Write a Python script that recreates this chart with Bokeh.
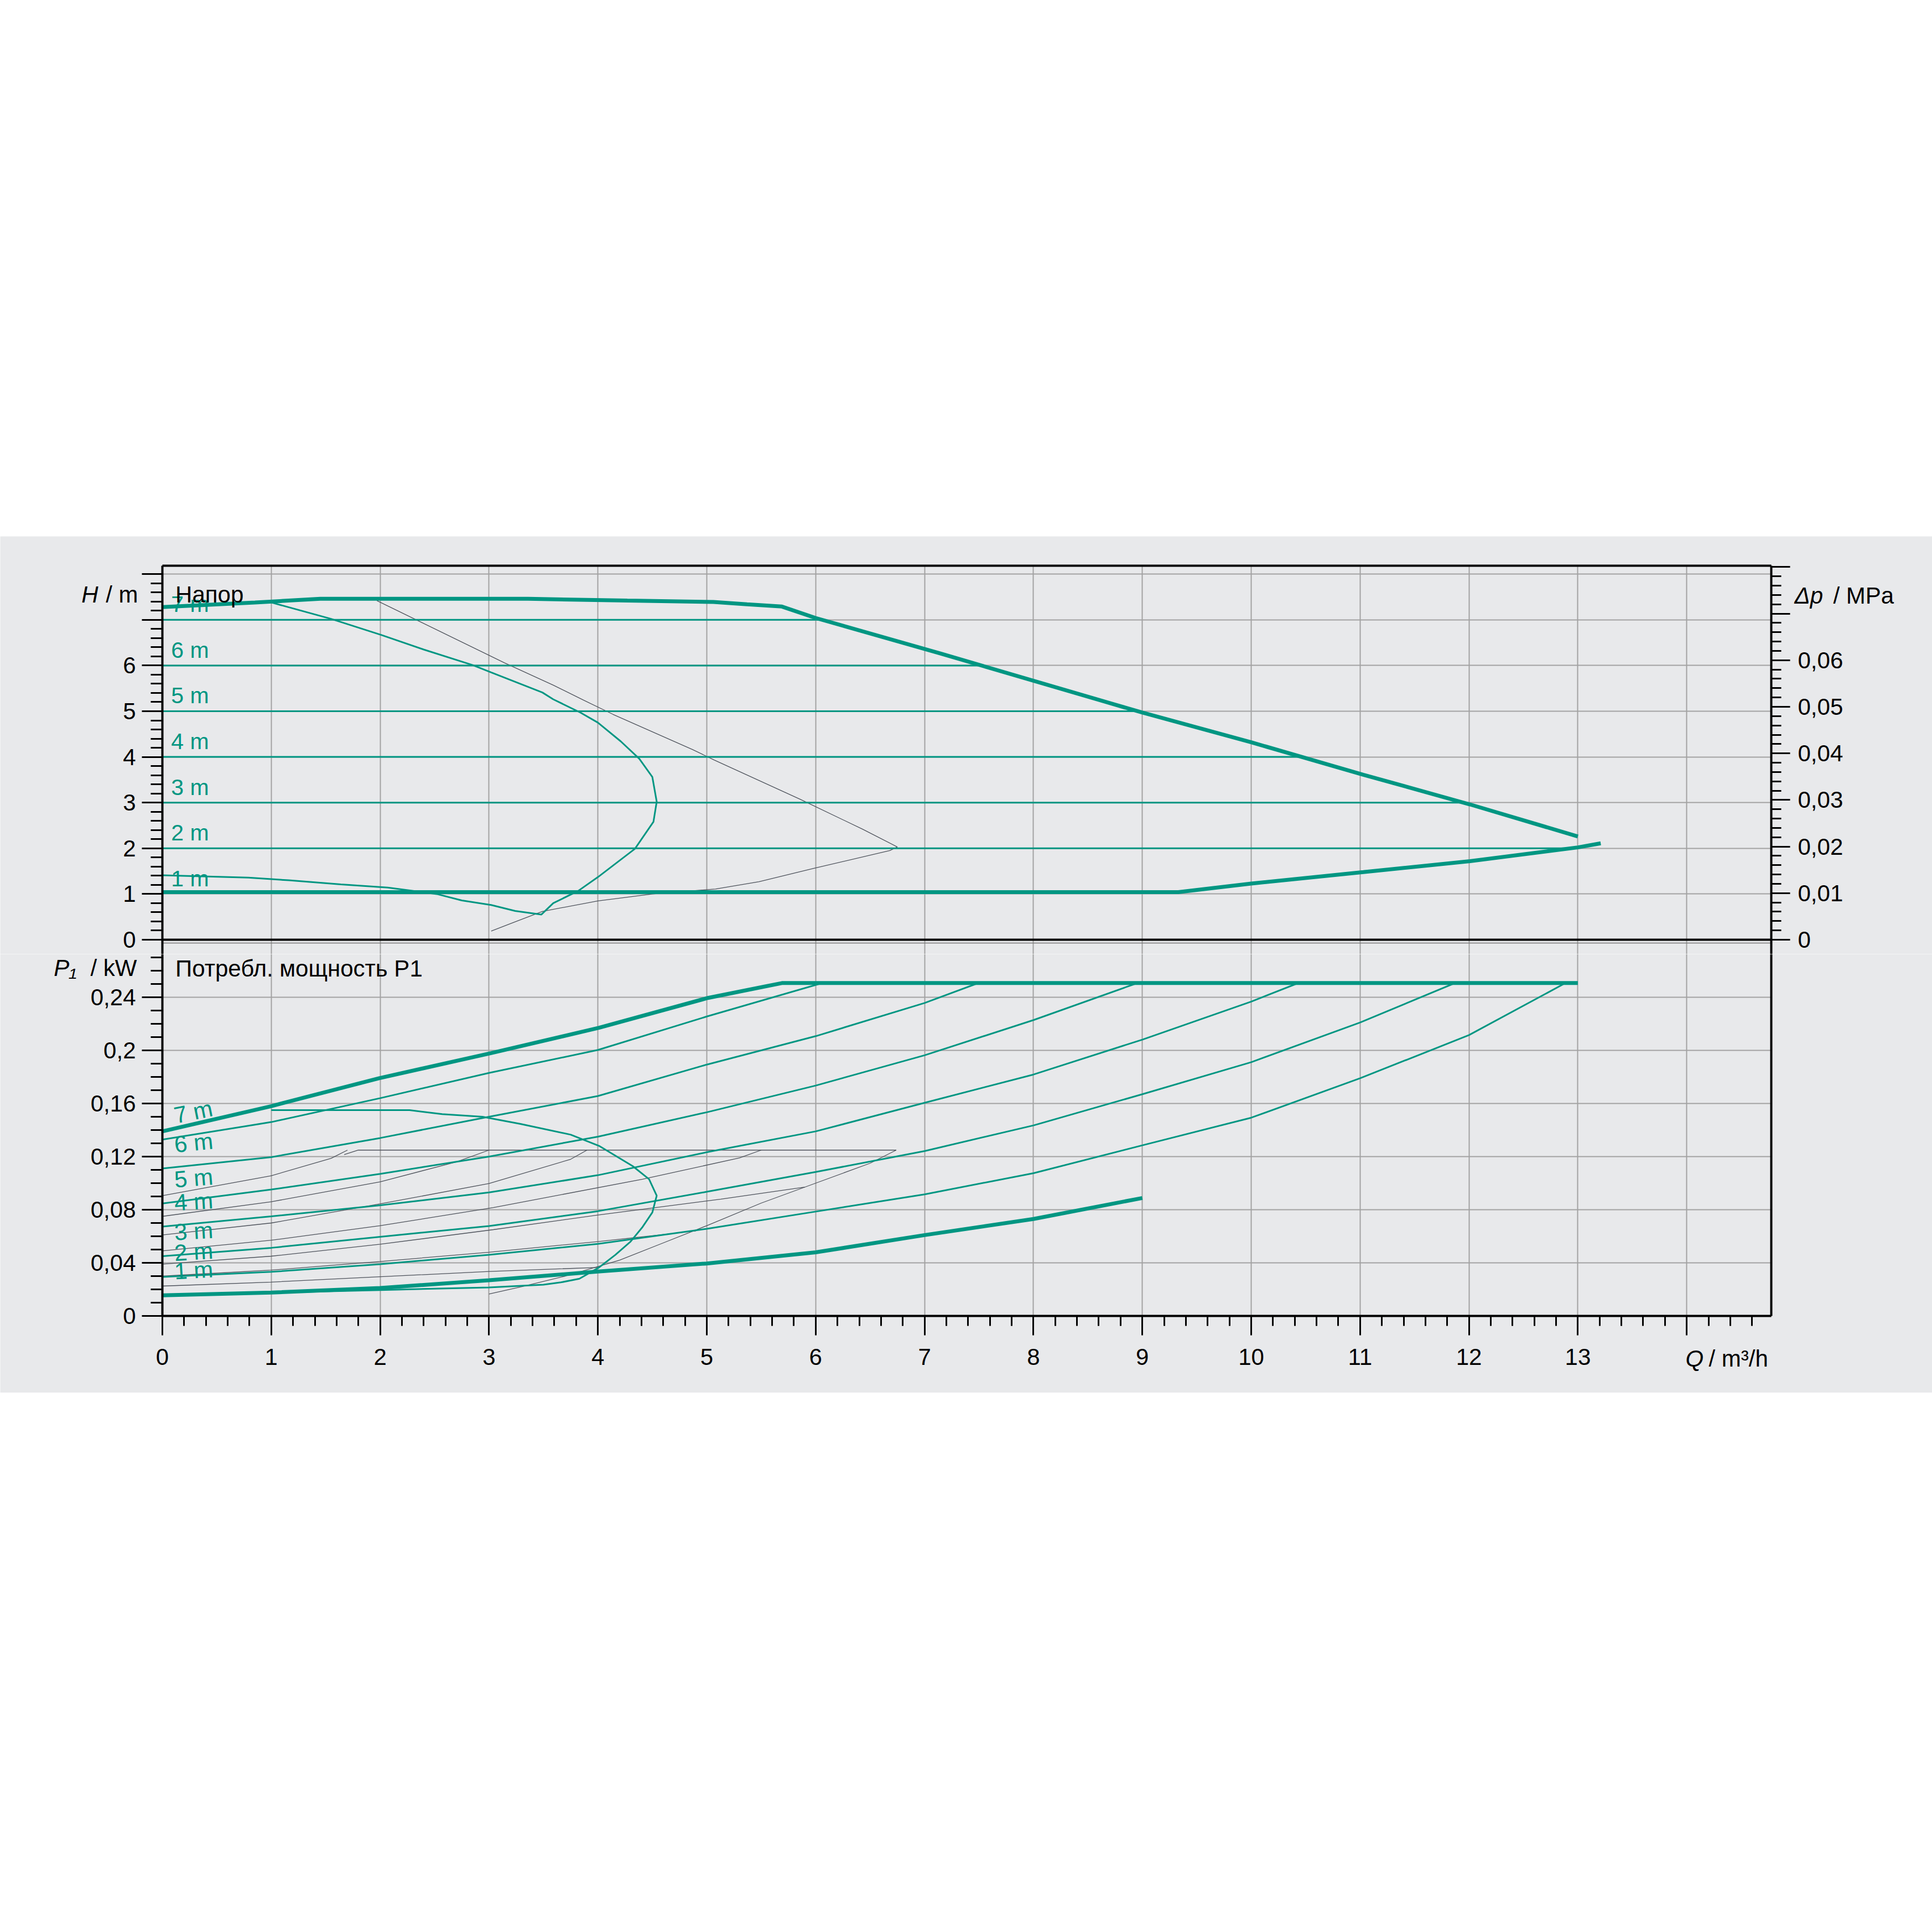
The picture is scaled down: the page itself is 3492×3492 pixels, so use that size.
from bokeh.plotting import figure
from bokeh.layouts import column
from bokeh.models import (Spacer, LinearAxis, Range1d, FixedTicker, CustomJSTickFormatter,
                          Label, Grid)
from bokeh.core.properties import value
from bokeh.embed import file_html
from bokeh.resources import INLINE

# ---------------- data: upper chart, head H [m] over flow Q [m3/h] ----------------
max_q = [0, 0.85, 1.45, 3.36, 4.27, 5.06, 5.37, 5.69, 6.0, 7.15, 9.0, 10.0, 11.03, 12.01, 13.0]
max_h = [7.28, 7.38, 7.46, 7.46, 7.42, 7.39, 7.34, 7.29, 7.04, 6.26, 4.97, 4.32, 3.61, 2.96, 2.26]

min_q = [0, 9.33, 10.0, 11.03, 12.01, 13.0, 13.21]
min_h = [1.04, 1.04, 1.23, 1.48, 1.72, 2.02, 2.11]

head_levels = [2, 3, 4, 5, 6, 7]
head_level_end_q = [13.0, 11.95, 10.46, 8.96, 7.52, 6.06]
head_label_levels = [1, 2, 3, 4, 5, 6, 7]
head_label_text = ["1 m", "2 m", "3 m", "4 m", "5 m", "6 m", "7 m"]

loop_q = [1.0, 1.55, 2.01, 2.40, 2.85, 3.02, 3.49, 3.59, 3.84, 4.0, 4.21, 4.38, 4.50, 4.54,
          4.51, 4.34, 4.0, 3.82, 3.59, 3.48, 3.24, 3.02, 2.75, 2.52, 2.07, 1.64, 1.16, 0.79, 0]
loop_h = [7.38, 7.02, 6.67, 6.35, 6.01, 5.85, 5.41, 5.26, 4.97, 4.75, 4.34, 3.96, 3.56, 3.02,
          2.58, 1.99, 1.37, 1.07, 0.80, 0.55, 0.63, 0.76, 0.86, 1.0, 1.14, 1.21, 1.30, 1.36, 1.41]

gray_q = [1.97, 2.34, 3.14, 3.59, 3.87, 4.14, 4.87, 5.07, 5.86, 6.43, 6.75, 6.68, 5.98, 5.48,
          5.08, 4.5, 4.0, 3.49, 3.25, 3.02]
gray_h = [7.42, 6.99, 6.06, 5.57, 5.24, 4.93, 4.16, 3.93, 3.07, 2.42, 2.03, 1.95, 1.56, 1.27,
          1.11, 1.0, 0.85, 0.62, 0.40, 0.19]

# ---------------- data: lower chart, power P1 [kW] over flow Q ----------------
pmax_q = [0, 1.0, 1.99, 3.02, 4.01, 5.01, 5.69, 13.0]
pmax_p = [0.139, 0.158, 0.179, 0.198, 0.217, 0.2395, 0.2507, 0.2507]

p7_q = [0, 1, 2, 3, 4, 5, 6.03]
p7_p = [0.1328, 0.146, 0.164, 0.183, 0.2003, 0.2255, 0.250]
p6_q = [0, 1, 2, 3, 4, 5, 6, 7, 7.47]
p6_p = [0.111, 0.1196, 0.134, 0.150, 0.1656, 0.1893, 0.2107, 0.2357, 0.250]
p5_q = [0, 1, 2, 3, 4, 5, 6, 7, 8, 8.93]
p5_p = [0.0847, 0.0952, 0.107, 0.120, 0.135, 0.1534, 0.1735, 0.1963, 0.2228, 0.250]
p4_q = [0, 1, 2, 3, 4, 5, 6, 7, 8, 9, 10, 10.41]
p4_p = [0.0673, 0.075, 0.0833, 0.093, 0.106, 0.1233, 0.139, 0.1605, 0.1818, 0.2081, 0.2367, 0.250]
p3_q = [0, 1, 2, 3, 4, 5, 6, 7, 8, 9, 10, 11, 11.85]
p3_p = [0.045, 0.0513, 0.0596, 0.0677, 0.0789, 0.0935, 0.1084, 0.1242, 0.1435, 0.167, 0.1911,
        0.221, 0.250]
p2_q = [0, 1, 2, 3, 4, 5, 6, 7, 8, 9, 10, 11, 12, 12.87]
p2_p = [0.0294, 0.0332, 0.039, 0.046, 0.0543, 0.0656, 0.0786, 0.0916, 0.1075, 0.1285, 0.1493,
        0.179, 0.2115, 0.250]
p1_q = [0, 1, 2, 3, 4, 5, 6, 7, 8, 9]
p1_p = [0.0155, 0.0176, 0.021, 0.0269, 0.0334, 0.0395, 0.0479, 0.0609, 0.073, 0.0888]

power_label_text = ["1 m", "2 m", "3 m", "4 m", "5 m", "6 m", "7 m"]

ploop_q = [1.0, 2.27, 2.57, 2.94, 3.29, 3.75, 4.01, 4.32, 4.47, 4.54, 4.50, 4.41, 4.30, 4.16,
           4.01, 3.83, 3.66, 3.5, 3.0, 2.0, 1.0, 0]
ploop_p = [0.155, 0.155, 0.152, 0.150, 0.1446, 0.1365, 0.1281, 0.1128, 0.103, 0.0906, 0.078,
           0.067, 0.056, 0.046, 0.0365, 0.028, 0.0253, 0.0235, 0.0215, 0.0195, 0.0175, 0.0157]

genv_q = [1.67, 1.8, 6.74, 6.5, 6.0, 5.5, 5.0, 4.6, 4.2, 3.7, 3.3, 3.0]
genv_p = [0.1215, 0.1249, 0.1249, 0.115, 0.100, 0.085, 0.068, 0.055, 0.042, 0.030, 0.022, 0.0165]
g1_q = [0, 1.0, 1.55, 1.7]
g1_p = [0.0906, 0.1056, 0.1187, 0.1249]
g2_q = [0, 1.0, 2.0, 2.7, 3.0]
g2_p = [0.075, 0.086, 0.101, 0.116, 0.1249]
g3_q = [0, 1.0, 2.0, 3.0, 3.75, 3.9]
g3_p = [0.061, 0.070, 0.0844, 0.0997, 0.118, 0.1249]
g4_q = [0, 1.0, 2.0, 3.04, 4.41, 5.3, 5.5]
g4_p = [0.049, 0.057, 0.068, 0.0816, 0.103, 0.119, 0.1249]
g5_q = [0, 1.0, 2.0, 3.04, 4.0, 5.13, 5.9]
g5_p = [0.039, 0.045, 0.054, 0.065, 0.076, 0.088, 0.097]
g6_q = [0, 1.0, 2.0, 3.0, 4.0, 4.9]
g6_p = [0.030, 0.0345, 0.041, 0.048, 0.056, 0.064]
g7_q = [0, 1.0, 2.0, 3.0, 4.0]
g7_p = [0.0225, 0.0255, 0.0295, 0.0335, 0.0365]

# ---------------- ticks ----------------
q_major = list(range(0, 15))
q_minor = [round(0.2 * i, 1) for i in range(0, 74)]
h_major = list(range(0, 9))
h_minor = [round(0.2 * i, 1) for i in range(0, 41)]
dp_major = [round(0.01 * i, 2) for i in range(0, 9)]
dp_minor = [round(0.002 * i, 3) for i in range(0, 41)]
p_major = [round(0.04 * i, 2) for i in range(0, 8)]
p_minor = [round(0.01 * i, 2) for i in range(0, 29)]

# ---------------- styling / geometry (page pixels) ----------------
FONT = "Liberation Sans"
TEAL = "#009682"
BAND = "#e8e9eb"
GRID = "#a2a2a2"
GRAYLINE = "#4c515a"
W = 3492
PAGE_X0 = 0
PLOT_LEFT, PLOT_RIGHT = 293, 3201
PX_Q = 196.8             # px per m3/h
PX_H = 82.6              # px per m head
PX_P = 2400.0            # px per kW
BAND_TOP, SPLIT, BAND_BOTTOM = 969, 1724, 2517
TOP_FRAME_Y, H0_Y, P0_Y = 1022, 1698, 2378
DP_PER_M = 0.00981

Q_END = (PLOT_RIGHT - PLOT_LEFT) / PX_Q
X_LO = (PAGE_X0 - PLOT_LEFT) / PX_Q
X_HI = (PAGE_X0 + W - PLOT_LEFT) / PX_Q
H_LO = (H0_Y - SPLIT) / PX_H
H_HI = (H0_Y - BAND_TOP) / PX_H
H_TOP = (H0_Y - TOP_FRAME_Y) / PX_H
P_HI = (P0_Y - SPLIT) / PX_P
P_LO = (P0_Y - BAND_BOTTOM) / PX_P

HAS_CROSS = "cross_bounds" in Grid.properties()


def add_grid(p, dim, ticks, bounds, cross):
    if HAS_CROSS:
        p.add_layout(Grid(dimension=dim, ticker=FixedTicker(ticks=ticks), bounds=bounds,
                          cross_bounds=cross, grid_line_color=GRID, grid_line_width=2))
    else:
        t = [v for v in ticks if bounds[0] <= v <= bounds[1]]
        if dim == 0:
            p.segment(x0=t, x1=t, y0=[cross[0]] * len(t), y1=[cross[1]] * len(t),
                      line_color=GRID, line_width=2, level="underlay")
        else:
            p.segment(y0=t, y1=t, x0=[cross[0]] * len(t), x1=[cross[1]] * len(t),
                      line_color=GRID, line_width=2, level="underlay")


def make_axis(p, place, loc, bounds, ticks=None, minor=None, code=None, major_out=36,
              minor_out=20, standoff=12, range_name=None, lw=4, color="black"):
    kw = {}
    if range_name:
        kw["y_range_name"] = range_name
    ax = LinearAxis(fixed_location=loc, bounds=bounds,
                    ticker=FixedTicker(ticks=ticks or [], minor_ticks=minor or []), **kw)
    if code:
        ax.formatter = CustomJSTickFormatter(code=code)
    ax.axis_line_width = lw
    ax.axis_line_color = color
    ax.major_tick_line_width = 3
    ax.minor_tick_line_width = 3
    ax.major_tick_line_color = "black" if ticks else None
    ax.minor_tick_line_color = "black" if minor else None
    ax.major_tick_out = major_out
    ax.major_tick_in = 0
    ax.minor_tick_out = minor_out
    ax.minor_tick_in = 0
    ax.major_label_standoff = standoff
    ax.major_label_text_font = FONT
    ax.major_label_text_font_size = "42px" if ticks else "0px"
    ax.major_label_text_color = "black"
    p.add_layout(ax, place)
    return ax


def add_label(p, x, y, text, italic=False, align="left", size="42px", color="black"):
    p.add_layout(Label(x=x, y=y, text=text, text_font=FONT, text_font_size=size,
                       text_font_style="italic" if italic else "normal",
                       text_align=align, text_baseline="middle", text_color=color))


def q_at(px):
    return (px - PLOT_LEFT) / PX_Q


x_range = Range1d(X_LO, X_HI)

common = dict(width=W, x_range=x_range, output_backend="svg", toolbar_location=None,
              x_axis_location=None, y_axis_location=None,
              min_border_left=0, min_border_right=0, min_border_top=0, min_border_bottom=0,
              background_fill_color=BAND, border_fill_color=BAND, outline_line_color=None)

# ================= upper figure =================
top = figure(height=SPLIT - BAND_TOP, y_range=Range1d(H_LO, H_HI), **common)
top.xgrid.visible = False
top.ygrid.visible = False
add_grid(top, 0, q_major, (0, Q_END), (H_LO, H_TOP))
add_grid(top, 1, h_major, (0, H_TOP), (0, Q_END))

make_axis(top, "left", 0, (H_LO, H_TOP), h_major, h_minor,
          "return tick > 6.5 ? '' : tick.toFixed(0);", 37, 21, 11)
top.extra_y_ranges = {"dp": Range1d(H_LO * DP_PER_M, H_HI * DP_PER_M)}
make_axis(top, "right", Q_END, (H_LO * DP_PER_M, H_TOP * DP_PER_M), dp_major, dp_minor,
          "if (tick > 0.065) return ''; if (Math.abs(tick) < 1e-9) return '0';"
          " return tick.toFixed(2).replace('.', ',');", 34, 18, 14, range_name="dp")
make_axis(top, "above", H_TOP, (0, Q_END))            # upper frame border
make_axis(top, "below", 0, (0, Q_END))                # H = 0 border line
make_axis(top, "below", (H0_Y - 1704) / PX_H, (0, Q_END), lw=1.5, color="#7a7a7a")

top.line(gray_q, gray_h, line_color=GRAYLINE, line_width=1.3)
for lv, qe in zip(head_levels, head_level_end_q):
    top.line([0, qe], [lv, lv], line_color=TEAL, line_width=3)
top.line(loop_q, loop_h, line_color=TEAL, line_width=3)
top.line(min_q, min_h, line_color=TEAL, line_width=7)
top.line(max_q, max_h, line_color=TEAL, line_width=7)
top.text(x=[0.08] * len(head_label_levels), y=[lv + 0.34 for lv in head_label_levels],
         text=head_label_text, text_font=value(FONT), text_font_size="41px",
         text_color=TEAL, text_baseline="middle", text_align="left")

add_label(top, 0.12, 7.56, "Напор")
add_label(top, q_at(177), 7.56, "H", italic=True, align="right")
add_label(top, q_at(249), 7.56, "/ m", align="right")
add_label(top, q_at(3243), 7.53, "Δp", italic=True)
add_label(top, q_at(3313), 7.53, "/ MPa")

# ================= lower figure =================
bot = figure(height=BAND_BOTTOM - SPLIT, y_range=Range1d(P_LO, P_HI), **common)
bot.xgrid.visible = False
bot.ygrid.visible = False
add_grid(bot, 0, q_major, (0, Q_END), (0, P_HI))
add_grid(bot, 1, p_major, (0, P_HI), (0, Q_END))

make_axis(bot, "left", 0, (0, P_HI), p_major, p_minor,
          "if (tick > 0.26) return ''; if (Math.abs(tick) < 1e-9) return '0';"
          " return String(parseFloat(tick.toFixed(2))).replace('.', ',');", 37, 21, 11)
make_axis(bot, "below", 0, (0, Q_END), q_major, q_minor,
          "return tick > 13.5 ? '' : tick.toFixed(0);", 35, 18, 24)
make_axis(bot, "right", Q_END, (0, P_HI))             # right frame border

for gq, gp in [(genv_q, genv_p), (g1_q, g1_p), (g2_q, g2_p), (g3_q, g3_p), (g4_q, g4_p),
               (g5_q, g5_p), (g6_q, g6_p), (g7_q, g7_p)]:
    bot.line(gq, gp, line_color=GRAYLINE, line_width=1.3)

power_curves = [(p1_q, p1_p), (p2_q, p2_p), (p3_q, p3_p), (p4_q, p4_p), (p5_q, p5_p),
                (p6_q, p6_p), (p7_q, p7_p)]
for i, (cq, cp) in enumerate(power_curves):
    bot.line(cq, cp, line_color=TEAL, line_width=7 if i == 0 else 3)
bot.line(ploop_q, ploop_p, line_color=TEAL, line_width=3)
bot.line(pmax_q, pmax_p, line_color=TEAL, line_width=7)

bot.text(x=[0.11] * len(power_curves), y=[cp[0] + 0.018 for cq, cp in power_curves],
         text=power_label_text, angle=[0.06, 0.06, 0.06, 0.06, 0.08, 0.1, 0.2],
         text_font=value(FONT), text_font_size="42px", text_color=TEAL,
         text_baseline="middle", text_align="left")

add_label(bot, 0.12, 0.2615, "Потребл. мощность P1")
add_label(bot, q_at(138), 0.2619, "P₁", italic=True, align="right")
add_label(bot, q_at(247), 0.2619, "/ kW", align="right")
add_label(bot, q_at(3046), -0.0319, "Q", italic=True)
add_label(bot, q_at(3088), -0.0319, "/ m³/h")

layout = column(Spacer(width=W, height=BAND_TOP - PAGE_X0), top, bot)

with open("out.html", "w") as f:
    f.write(file_html(layout, INLINE))
